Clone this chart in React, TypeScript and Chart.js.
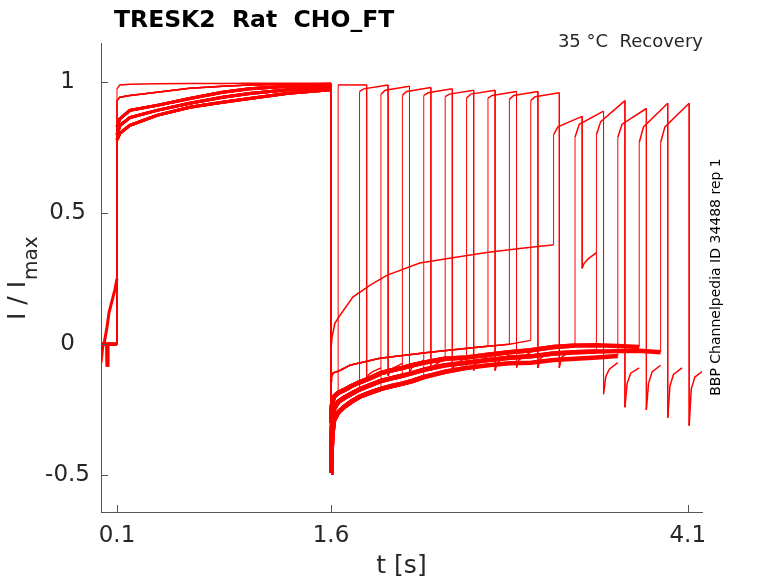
import { useEffect, useRef } from "react"
import { Chart, registerables } from "chart.js"

Chart.register(...registerables)

const FONT = "'DejaVu Sans', sans-serif"
const RED = "rgb(255, 0, 0)"
const AXIS = "#555555"
const INK = "#262626"

// axes
const xTicks = [0.1, 1.6, 4.1]
const yTicks = [-0.5, 0, 0.5, 1]

// pulse 2 onset of each sweep (s)
const pulse2Onsets = [1.65, 1.8, 1.95, 2.1, 2.25, 2.4, 2.55, 2.7, 2.85, 3.0, 3.16, 3.31, 3.46, 3.61, 3.76, 3.91]
const pulse2Offsets = [0, 0.03, 0.2]
const tail2Offsets = [0, 0.015, 0.04, 0.1]

// I/Imax at pulse 2 onset, +30 ms, end
const pulse2Levels = [
  [0.99, 0.99, 0.99],
  [0.965, 0.975, 0.99],
  [0.955, 0.97, 0.985],
  [0.95, 0.965, 0.98],
  [0.95, 0.96, 0.975],
  [0.945, 0.955, 0.97],
  [0.94, 0.955, 0.97],
  [0.94, 0.95, 0.965],
  [0.935, 0.95, 0.965],
  [0.93, 0.945, 0.96],
  [0.8, 0.83, 0.87],
  [0.79, 0.84, 0.89],
  [0.8, 0.85, 0.93],
  [0.79, 0.84, 0.9],
  [0.77, 0.83, 0.92],
  [0.77, 0.83, 0.92],
]

// tail after pulse 2
const tail2Levels = [
  [-0.13, -0.115, -0.105, -0.09],
  [-0.12, -0.1, -0.09, -0.073],
  [-0.11, -0.09, -0.08, -0.06],
  [-0.1, -0.085, -0.075, -0.055],
  [-0.1, -0.08, -0.07, -0.05],
  [-0.1, -0.075, -0.065, -0.045],
  [-0.1, -0.07, -0.06, -0.04],
  [-0.09, -0.06, -0.05, -0.03],
  [-0.09, -0.055, -0.045, -0.03],
  [-0.09, -0.05, -0.04, -0.03],
  [0.29, 0.31, 0.325, 0.35],
  [-0.19, -0.125, -0.095, -0.07],
  [-0.24, -0.15, -0.11, -0.09],
  [-0.25, -0.15, -0.105, -0.08],
  [-0.28, -0.16, -0.115, -0.09],
  [-0.31, -0.17, -0.125, -0.1],
]

// holding before pulse 1
const preFlatT = [-0.012, 0.1]
const preFlatY = [0, 0]
const preSpikeT = [-0.012, 0.028, 0.031, 0.036, 0.1]
const preSpikeY = [0, 0, -0.08, 0, 0]
const preLowT = [-0.012, 0.002, 0.1]
const preLowY = [-0.07, 0, 0]
const preRampT = [-0.012, 0.002, 0.009, 0.03, 0.044, 0.086, 0.1]
const preRampY = [-0.07, 0, 0, 0.065, 0.12, 0.21, 0.25]

// pulse 1 (0.1 - 1.6 s)
const pulse1Times = [0.1, 0.12, 0.19, 0.38, 0.61, 0.84, 1.03, 1.3, 1.6]
const pulse1Top = [0.975, 0.99, 0.993, 0.994, 0.995, 0.995, 0.996, 0.996, 0.996]
const pulse1Smooth = [0.93, 0.943, 0.95, 0.962, 0.977, 0.985, 0.99, 0.993, 0.995]
const pulse1High = [0.83, 0.86, 0.893, 0.912, 0.938, 0.962, 0.975, 0.985, 0.99]
const pulse1Mid = [0.8, 0.835, 0.865, 0.893, 0.92, 0.943, 0.957, 0.972, 0.983]
const pulse1Low = [0.78, 0.805, 0.836, 0.874, 0.905, 0.924, 0.938, 0.958, 0.972]

// tail after pulse 1
const tailNoisyT = [1.6, 1.603, 1.61, 1.621, 1.65, 1.69, 1.74, 1.8, 1.87, 1.95, 2.02, 2.1, 2.17, 2.25, 2.4, 2.55, 2.7, 2.85, 3.0, 3.16, 3.31, 3.46, 3.61, 3.76, 3.91]
const tailUpper = [-0.3, -0.25, -0.22, -0.2, -0.185, -0.175, -0.16, -0.145, -0.13, -0.11, -0.1, -0.09, -0.08, -0.07, -0.055, -0.05, -0.04, -0.03, -0.023, -0.01, -0.005, -0.004, -0.006, -0.01, -0.02]
const tailMid = [-0.42, -0.35, -0.28, -0.245, -0.22, -0.205, -0.19, -0.172, -0.157, -0.14, -0.13, -0.12, -0.11, -0.097, -0.08, -0.07, -0.06, -0.051, -0.046, -0.035, -0.03, -0.027, -0.026, -0.025, -0.03]
const tailLower = [-0.49, -0.42, -0.34, -0.29, -0.26, -0.24, -0.22, -0.2, -0.185, -0.17, -0.16, -0.15, -0.14, -0.125, -0.105, -0.09, -0.08, -0.072, -0.07, -0.06, -0.055, -0.05, -0.045, -0.04, -0.04]
const tailSmoothT = [1.6, 1.603, 1.614, 1.662, 1.732, 1.942, 2.292, 2.642, 2.7, 2.85, 3.0]
const tailSmoothY = [-0.14, -0.125, -0.11, -0.1, -0.08, -0.053, -0.03, -0.01, -0.007, 0.0, 0.015]
const tailHighT = [1.6, 1.607, 1.627, 1.662, 1.753, 1.872, 1.991, 2.222, 2.453, 2.691, 2.922, 3.132, 3.16]
const tailHighY = [-0.02, 0.027, 0.08, 0.11, 0.18, 0.225, 0.263, 0.31, 0.33, 0.35, 0.366, 0.378, 0.38]

// which shape each sweep follows
const sweepPre = ["flat", "spike", "flat", "flat", "flat", "flat", "flat", "flat", "flat", "flat", "low", "flat", "ramp", "spike", "flat", "flat"]
const sweepPulse1 = ["high", "mid", "low", "high", "mid", "low", "high", "smooth", "smooth", "smooth", "top", "mid", "low", "high", "mid", "low"]
const sweepTail1 = ["upper", "mid", "lower", "mid", "lower", "upper", "lower", "smooth", "smooth", "smooth", "high", "upper", "mid", "lower", "upper", "mid"]

const preShapes: Record<string, number[][]> = {
  flat: [preFlatT, preFlatY],
  spike: [preSpikeT, preSpikeY],
  low: [preLowT, preLowY],
  ramp: [preRampT, preRampY],
}
const pulse1Shapes: Record<string, number[]> = {
  top: pulse1Top,
  smooth: pulse1Smooth,
  high: pulse1High,
  mid: pulse1Mid,
  low: pulse1Low,
}
const tailShapes: Record<string, number[][]> = {
  upper: [tailNoisyT, tailUpper],
  mid: [tailNoisyT, tailMid],
  lower: [tailNoisyT, tailLower],
  smooth: [tailSmoothT, tailSmoothY],
  high: [tailHighT, tailHighY],
}

function buildSweep(k: number) {
  const pts: { x: number; y: number }[] = []
  const [preT, preY] = preShapes[sweepPre[k]]
  preT.forEach((t, i) => pts.push({ x: t, y: preY[i] }))
  const p1 = pulse1Shapes[sweepPulse1[k]]
  pulse1Times.forEach((t, i) => pts.push({ x: t, y: p1[i] }))
  const [tT, tY] = tailShapes[sweepTail1[k]]
  const onset = pulse2Onsets[k]
  tT.forEach((t, i) => {
    if (t <= onset + 1e-9) pts.push({ x: t, y: tY[i] })
  })
  pulse2Offsets.forEach((o, i) => pts.push({ x: onset + o, y: pulse2Levels[k][i] }))
  tail2Offsets.forEach((o, i) => pts.push({ x: onset + 0.2 + o, y: tail2Levels[k][i] }))
  return pts
}

// inward tick marks and the free text of the figure
const decorations = {
  id: "decorations",
  afterDraw(chart: Chart) {
    const { ctx, chartArea, scales } = chart
    ctx.save()
    ctx.strokeStyle = AXIS
    ctx.lineWidth = 1
    xTicks.forEach((v) => {
      const px = Math.round(scales.x.getPixelForValue(v)) + 0.5
      ctx.beginPath()
      ctx.moveTo(px, chartArea.bottom)
      ctx.lineTo(px, chartArea.bottom - 7)
      ctx.stroke()
    })
    yTicks.forEach((v) => {
      const py = Math.round(scales.y.getPixelForValue(v)) + 0.5
      ctx.beginPath()
      ctx.moveTo(chartArea.left, py)
      ctx.lineTo(chartArea.left + 7, py)
      ctx.stroke()
    })

    ctx.fillStyle = "#000"
    ctx.textBaseline = "alphabetic"
    ctx.textAlign = "left"
    ctx.font = `bold 23.5px ${FONT}`
    ctx.fillText("TRESK2  Rat  CHO_FT", 114, 27)

    ctx.fillStyle = INK
    ctx.textAlign = "right"
    ctx.font = `18px ${FONT}`
    ctx.fillText("35 °C  Recovery", 703, 47)

    // y label with subscript
    ctx.save()
    ctx.translate(25, 320)
    ctx.rotate(-Math.PI / 2)
    ctx.textAlign = "left"
    ctx.font = `25px ${FONT}`
    ctx.fillText("I / I", 0, 0)
    const w = ctx.measureText("I / I").width
    ctx.font = `20px ${FONT}`
    ctx.fillText("max", w + 1, 12)
    ctx.restore()

    ctx.save()
    ctx.translate(716, 277)
    ctx.rotate(-Math.PI / 2)
    ctx.textAlign = "center"
    ctx.textBaseline = "middle"
    ctx.font = `14px ${FONT}`
    ctx.fillStyle = "#000"
    ctx.fillText("BBP Channelpedia ID 34488 rep 1", 0, 0)
    ctx.restore()

    ctx.restore()
  },
}

export default function App() {
  const canvasRef = useRef<HTMLCanvasElement>(null)

  useEffect(() => {
    if (!canvasRef.current) return
    document.body.style.margin = "0"

    const datasets = pulse2Onsets.map((onset, k) => {
      const noisy = sweepPulse1[k] !== "top" && sweepPulse1[k] !== "smooth"
      return {
        data: buildSweep(k),
        borderColor: RED,
        borderWidth: 1.5,
        pointRadius: 0,
        tension: 0,
        segment: {
          borderWidth: (ctx: any) => {
            const x0 = ctx.p0.parsed.x
            const x1 = ctx.p1.parsed.x
            if (Math.abs(x1 - x0) < 1e-9) return 1
            if (noisy && x1 <= onset + 1e-9) return x0 >= 1.6 ? 4.5 : 3
            return 1.5
          },
        },
      }
    })

    const chart = new Chart(canvasRef.current, {
      type: "line",
      data: { datasets },
      options: {
        animation: false,
        responsive: false,
        layout: { padding: { top: 43, right: 76, left: 0, bottom: 0 } },
        plugins: { legend: { display: false }, tooltip: { enabled: false } },
        scales: {
          x: {
            type: "linear",
            min: -0.012,
            max: 4.2,
            afterBuildTicks: (scale) => {
              scale.ticks = xTicks.map((value) => ({ value }))
            },
            afterFit: (scale) => {
              scale.height = 71
            },
            grid: { display: false, drawTicks: false },
            border: { display: true, color: AXIS, width: 1 },
            ticks: {
              padding: 10,
              color: INK,
              font: { family: FONT, size: 23 },
              callback: (v) => String(v),
            },
            title: {
              display: true,
              text: "t [s]",
              color: INK,
              font: { family: FONT, size: 25 },
              padding: { top: 0, bottom: 2 },
            },
          },
          y: {
            type: "linear",
            min: -0.64,
            max: 1.15,
            afterBuildTicks: (scale) => {
              scale.ticks = yTicks.map((value) => ({ value }))
            },
            afterFit: (scale) => {
              scale.width = 101
            },
            grid: { display: false, drawTicks: false },
            border: { display: true, color: AXIS, width: 1 },
            ticks: {
              padding: 11,
              crossAlign: "center",
              color: INK,
              font: { family: FONT, size: 23 },
              callback: (v) => String(v),
            },
          },
        },
      },
      plugins: [decorations],
    })

    return () => {
      chart.destroy()
    }
  }, [])

  return (
    <div style={{ width: 778, height: 583 }}>
      <canvas ref={canvasRef} width={778} height={583} />
    </div>
  )
}
